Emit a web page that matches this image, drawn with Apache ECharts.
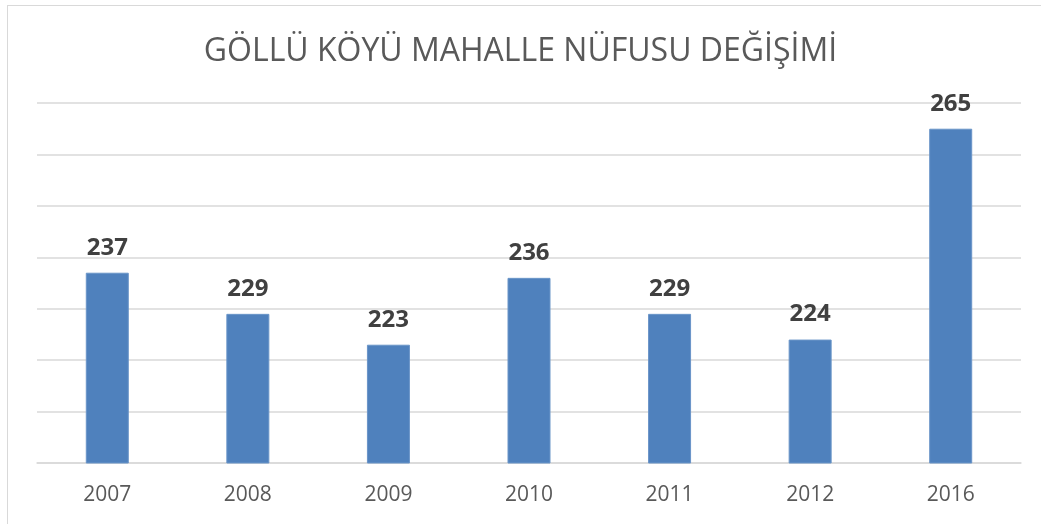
<!DOCTYPE html>
<html>
<head>
<meta charset="utf-8">
<script src="https://cdn.jsdelivr.net/npm/echarts@6/dist/echarts.min.js"></script>
<style>
  html, body { margin: 0; padding: 0; background: #fff; }
  .frame {
    position: absolute;
    left: 7px;
    top: 5px;
    width: 1100px;
    height: 600px;
    border: 1px solid #d9d9d9;
    box-sizing: border-box;
  }
  #chart { position: absolute; left: 0; top: 0; width: 1041px; height: 524px; }
</style>
</head>
<body>
<div class="frame"></div>
<div id="chart"></div>
<script>
  var years = ['2007', '2008', '2009', '2010', '2011', '2012', '2016'];
  var population = [237, 229, 223, 236, 229, 224, 265];

  var chart = echarts.init(document.getElementById('chart'));
  chart.setOption({
    animation: false,
    title: {
      text: 'GÖLLÜ KÖYÜ MAHALLE NÜFUSU DEĞİŞİMİ',
      left: 'center',
      top: 31,
      textStyle: {
        fontFamily: 'Open Sans',
        fontSize: 32,
        fontWeight: 'normal',
        color: '#595959'
      }
    },
    grid: {
      left: 37,
      right: 20,
      top: 103,
      bottom: 61
    },
    xAxis: {
      type: 'category',
      data: years,
      axisLine: { lineStyle: { color: '#d9d9d9', width: 1.5 } },
      axisTick: { show: false },
      axisLabel: {
        margin: 22,
        fontFamily: 'Open Sans',
        fontSize: 21,
        color: '#595959'
      }
    },
    yAxis: {
      type: 'value',
      min: 200,
      max: 270,
      interval: 10,
      axisLabel: { show: false },
      axisLine: { show: false },
      axisTick: { show: false },
      splitLine: { lineStyle: { color: '#d9d9d9', width: 1.5 } }
    },
    series: [
      {
        type: 'bar',
        data: population,
        barWidth: 43,
        itemStyle: {
          color: '#4f81bd',
          borderColor: '#6a95c8',
          borderWidth: 1
        },
        label: {
          show: true,
          position: 'top',
          distance: 13,
          fontFamily: 'Open Sans',
          fontSize: 24,
          fontWeight: 'bold',
          color: '#404040'
        }
      }
    ]
  });
</script>
</body>
</html>
